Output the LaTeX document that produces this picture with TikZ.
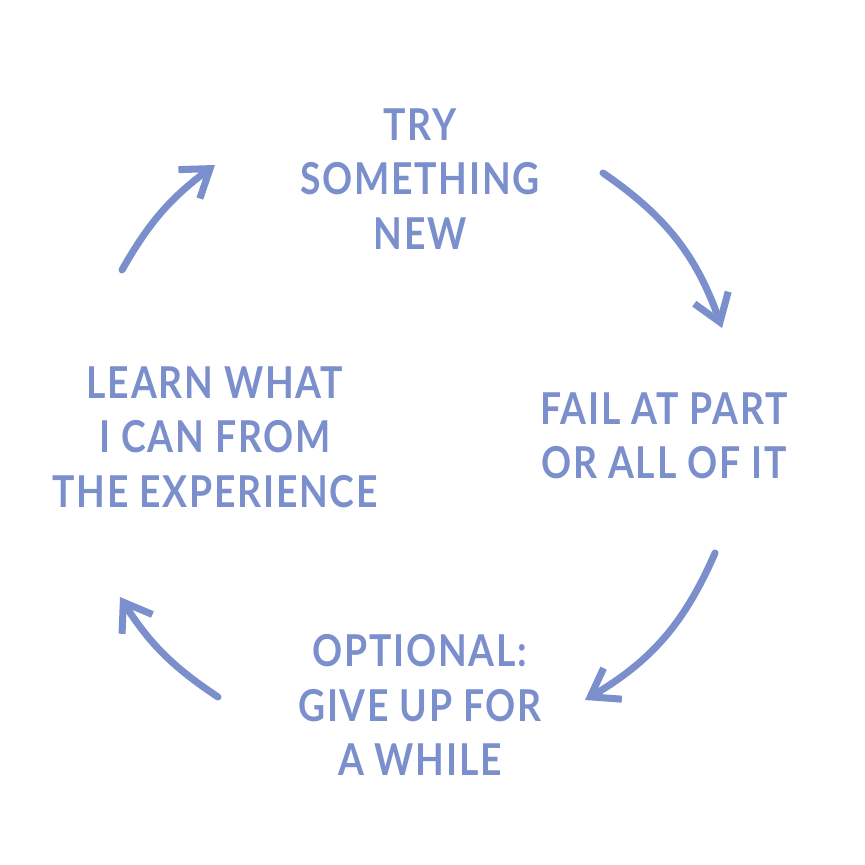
\documentclass[tikz,border=0pt]{standalone}
\usepackage{fontspec}
\setmainfont{Lato}[FakeStretch=0.85, LetterSpace=4]
\usepackage{tikz}
\usetikzlibrary{arrows.meta}
\definecolor{cyclecol}{RGB}{123,143,204}

\begin{document}
\begin{tikzpicture}[x=0.02cm, y=0.02cm, every node/.style={font=\fontsize{25}{31}\selectfont\bfseries, text=cyclecol, align=center}, >={Straight Barb[length=0.52cm, width=0.72cm]}]
	\useasboundingbox (0,0) rectangle (865,865);
	\node (try) at (420,686) {TRY\\SOMETHING\\NEW};
	\node (fail) at (664,429) {FAIL AT PART\\OR ALL OF IT};
	\node (giveup) at (420,160) {OPTIONAL:\\GIVE UP FOR\\A WHILE};
	\node (learn) at (215,428) {LEARN WHAT\\I CAN FROM\\THE EXPERIENCE};
	\coordinate (a1s) at (603,692); \coordinate (a1e) at (722,537);
	\coordinate (a2s) at (715,312); \coordinate (a2e) at (585,165);
	\coordinate (a3s) at (218,168); \coordinate (a3e) at (120,268);
	\coordinate (a4s) at (122,595); \coordinate (a4e) at (215,700);
	\draw[->, cyclecol, line width=4pt, line cap=round] (a1s) to[bend left=18] (a1e);
	\draw[->, cyclecol, line width=4pt, line cap=round] (a2s) to[bend left=18] (a2e);
	\draw[->, cyclecol, line width=4pt, line cap=round] (a3s) to[bend left=12] (a3e);
	\draw[->, cyclecol, line width=4pt, line cap=round] (a4s) to[bend left=12] (a4e);
\end{tikzpicture}
\end{document}
